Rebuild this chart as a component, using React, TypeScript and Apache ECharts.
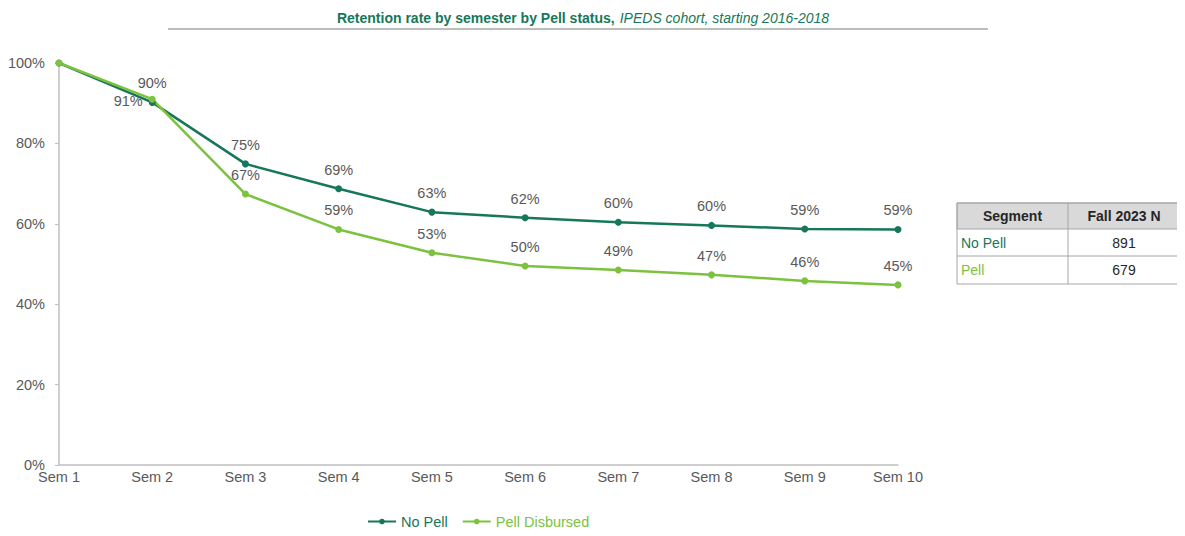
import React, { useEffect, useRef } from "react";
import * as echarts from "echarts";

const categories = ["Sem 1", "Sem 2", "Sem 3", "Sem 4", "Sem 5", "Sem 6", "Sem 7", "Sem 8", "Sem 9", "Sem 10"];
const noPell = [100, 90.2, 74.9, 68.7, 62.9, 61.5, 60.4, 59.6, 58.7, 58.6];
const pellDisbursed = [100, 91.0, 67.4, 58.6, 52.8, 49.5, 48.5, 47.3, 45.8, 44.8];
const yTicks = [0, 20, 40, 60, 80, 100];
const tableHeader = ["Segment", "Fall 2023 N"];
const tableSegments = ["No Pell", "Pell"];
const tableCounts = ["891", "679"];

const DARK = "#16775a";
const LIGHT = "#7cc23f";
const TEXT = "#595959";
const FONT = "'Liberation Sans', Arial, sans-serif";
const FS = 14.5;

export default function App() {
  const ref = useRef<HTMLDivElement>(null);
  useEffect(() => {
    if (!ref.current) return;
    const chart = echarts.init(ref.current, null, { renderer: "svg" });
    const tx = 957, ty = 203, cw = [111, 112], rh = [26, 27, 28];
    const tableColors = [DARK, LIGHT];
    const graphics: any[] = [];
    graphics.push({ type: "rect", shape: { x: tx, y: ty, width: cw[0] + cw[1], height: rh[0] }, style: { fill: "#d9d9d9", stroke: "#a6a6a6", lineWidth: 1 } });
    graphics.push({ type: "rect", shape: { x: tx, y: ty, width: cw[0] + cw[1], height: rh[0] + rh[1] + rh[2] }, style: { fill: "none", stroke: "#a6a6a6", lineWidth: 1 } });
    graphics.push({ type: "line", shape: { x1: tx + cw[0], y1: ty, x2: tx + cw[0], y2: ty + rh[0] + rh[1] + rh[2] }, style: { stroke: "#a6a6a6", lineWidth: 1 } });
    graphics.push({ type: "line", shape: { x1: tx, y1: ty + rh[0] + rh[1], x2: tx + cw[0] + cw[1], y2: ty + rh[0] + rh[1] }, style: { stroke: "#a6a6a6", lineWidth: 1 } });
    tableHeader.forEach((h, i) => {
      graphics.push({ type: "text", x: tx + (i === 0 ? cw[0] / 2 : cw[0] + cw[1] / 2), y: ty + rh[0] / 2, style: { text: h, fill: "#262626", font: `bold 14px ${FONT}`, align: "center", verticalAlign: "middle" } });
    });
    tableSegments.forEach((s, i) => {
      const yc = ty + rh[0] + (i === 0 ? rh[1] / 2 : rh[1] + rh[2] / 2);
      graphics.push({ type: "text", x: tx + 4, y: yc, style: { text: s, fill: tableColors[i], font: `14px ${FONT}`, align: "left", verticalAlign: "middle" } });
      graphics.push({ type: "text", x: tx + cw[0] + cw[1] / 2, y: yc, style: { text: tableCounts[i], fill: "#262626", font: `14px ${FONT}`, align: "center", verticalAlign: "middle" } });
    });
    graphics.push({ type: "line", shape: { x1: 168, y1: 29, x2: 988, y2: 29 }, style: { stroke: "#a6a6a6", lineWidth: 1.5 } });

    const label = (pos: any) => ({
      show: true,
      position: pos,
      color: TEXT,
      fontSize: FS,
      fontFamily: FONT,
      distance: 8,
      formatter: (p: any) => Math.round(p.value) + "%",
    });

    chart.setOption({
      animation: false,
      title: {
        text: "{b|Retention rate by semester by Pell status,} {i|IPEDS cohort, starting 2016-2018}",
        left: 578,
        textAlign: "center",
        top: 4,
        textStyle: {
          fontWeight: "normal",
          rich: {
            b: { fontWeight: "bold", fontSize: 14, color: DARK, fontFamily: FONT },
            i: { fontStyle: "italic", fontWeight: "normal", fontSize: 14, color: DARK, fontFamily: FONT },
          },
        },
      },
      legend: {
        bottom: 2,
        left: 362,
        itemGap: 14,
        itemWidth: 28,
        itemHeight: 7,
        textStyle: { fontSize: FS, fontFamily: FONT },
        data: [
          { name: "No Pell", textStyle: { color: DARK } },
          { name: "Pell Disbursed", textStyle: { color: LIGHT } },
        ],
      },
      grid: { left: 59, right: 287, top: 63, bottom: 71, containLabel: false },
      xAxis: {
        type: "category",
        data: categories,
        boundaryGap: false,
        axisLine: { lineStyle: { color: "#bfbfbf", width: 1.5 } },
        axisTick: { show: false },
        axisLabel: { color: TEXT, fontSize: FS, fontFamily: FONT, margin: 4 },
      },
      yAxis: {
        type: "value",
        min: yTicks[0],
        max: yTicks[yTicks.length - 1],
        interval: 20,
        splitLine: { show: false },
        axisLine: { show: true, lineStyle: { color: "#bfbfbf", width: 1.5 } },
        axisTick: { show: true, length: 4, lineStyle: { color: "#bfbfbf" } },
        axisLabel: { color: TEXT, fontSize: FS, fontFamily: FONT, margin: 14, formatter: (v: number) => v + "%" },
      },
      series: [
        {
          name: "No Pell",
          type: "line",
          data: noPell.map((v, i) => (i === 0 ? { value: v, label: { show: false } } : v)),
          color: DARK,
          symbol: "circle",
          symbolSize: 7,
          lineStyle: { width: 2.5, color: DARK },
          label: label("top"),
        },
        {
          name: "Pell Disbursed",
          type: "line",
          data: pellDisbursed.map((v, i) =>
            i === 0 ? { value: v, label: { show: false } } : i === 1 ? { value: v, label: { position: "left", distance: 6, offset: [0, 2] } } : v
          ),
          color: LIGHT,
          symbol: "circle",
          symbolSize: 7,
          lineStyle: { width: 2.5, color: LIGHT },
          label: label("top"),
        },
      ],
      graphic: graphics,
    });
    return () => chart.dispose();
  }, []);
  return <div ref={ref} style={{ width: 1185, height: 536, margin: -8 }} />;
}
